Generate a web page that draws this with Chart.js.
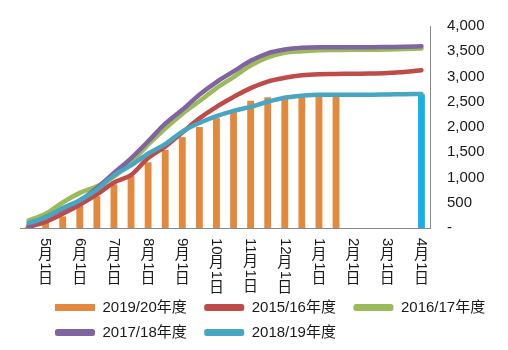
<!DOCTYPE html>
<html>
<head>
<meta charset="utf-8">
<script src="https://cdn.jsdelivr.net/npm/chart.js@4.4.0/dist/chart.umd.min.js"></script>
<style>
  body { margin: 0; background: #fff; }
  #wrap { width: 508px; height: 350px; }
</style>
</head>
<body>
<div id="wrap"><canvas id="chart" width="508" height="350"></canvas></div>
<script>
// half-month points, April to April
const categories = ['4月16日', '5月1日', '5月16日', '6月1日', '6月16日', '7月1日', '7月16日', '8月1日',
    '8月16日', '9月1日', '9月16日', '10月1日', '10月16日', '11月1日', '11月16日', '12月1日',
    '12月16日', '1月1日', '1月16日', '2月1日', '2月16日', '3月1日', '3月16日', '4月1日'];

const season1920 = [20, 120, 230, 440, 630, 865, 1030, 1300, 1545, 1800, 2000, 2175, 2295,
    2520, 2590, 2620, 2630, 2630, 2630, null, null, null, null, null];
const season1920End = [null, null, null, null, null, null, null, null, null, null, null, null,
    null, null, null, null, null, null, null, null, null, null, null, 2650];
const season1516 = [20, 120, 280, 460, 665, 900, 1050, 1385, 1610, 1890, 2170, 2400, 2595,
    2770, 2900, 2975, 3025, 3045, 3050, 3055, 3060, 3070, 3090, 3125];
const season1617 = [150, 280, 505, 695, 825, 1015, 1300, 1650, 1970, 2260, 2510, 2770, 2990,
    3215, 3380, 3470, 3500, 3520, 3525, 3530, 3530, 3535, 3545, 3555];
const season1718 = [50, 215, 375, 540, 790, 1090, 1380, 1715, 2065, 2340, 2640, 2890, 3100,
    3310, 3460, 3535, 3570, 3580, 3580, 3580, 3580, 3585, 3590, 3600];
const season1819 = [100, 210, 395, 550, 760, 1045, 1240, 1470, 1660, 1910, 2080, 2215, 2320,
    2400, 2500, 2580, 2620, 2640, 2640, 2640, 2640, 2645, 2650, 2655];

const textColor = '#1a1a1a';
const fontFamily = '"Liberation Sans", "Noto Sans CJK SC", sans-serif';

Chart.defaults.font.family = fontFamily;
Chart.defaults.font.size = 15;
Chart.defaults.color = textColor;

function lineSet(label, data, color, order) {
    return {
        type: 'line',
        label: label,
        data: data,
        borderColor: color,
        backgroundColor: color,
        borderWidth: 4.5,
        borderCapStyle: 'round',
        borderJoinStyle: 'round',
        pointRadius: 0,
        cubicInterpolationMode: 'monotone',
        order: order
    };
}

// x labels are written top to bottom, digits turned sideways
const verticalLabels = {
    id: 'verticalLabels',
    afterDraw(chart) {
        const ctx = chart.ctx;
        const xs = chart.scales.x;
        ctx.save();
        ctx.fillStyle = textColor;
        ctx.font = '15px ' + fontFamily;
        categories.forEach((lab, i) => {
            if (!/月1日$/.test(lab)) return;
            const x = xs.getPixelForValue(i);
            let y = xs.top + 10;
            lab.match(/\d+|\D/g).forEach(part => {
                if (/\d/.test(part)) {
                    const w = ctx.measureText(part).width;
                    ctx.save();
                    ctx.translate(x, y);
                    ctx.rotate(Math.PI / 2);
                    ctx.textAlign = 'left';
                    ctx.textBaseline = 'middle';
                    ctx.fillText(part, 0, 0);
                    ctx.restore();
                    y += w + 1;
                } else {
                    ctx.textAlign = 'center';
                    ctx.textBaseline = 'top';
                    ctx.fillText(part, x, y);
                    y += 15;
                }
            });
        });
        ctx.restore();
    }
};

// legend rows start under the plot, not at the page edge
const legendShift = {
    id: 'legendShift',
    afterLayout(chart) {
        chart.legend.left += 25;
    }
};

new Chart(document.getElementById('chart'), {
    type: 'bar',
    data: {
        labels: categories,
        datasets: [
            {
                label: '2019/20年度',
                data: season1920,
                backgroundColor: '#E3893D',
                barPercentage: 0.8,
                categoryPercentage: 0.5,
                grouped: false,
                order: 10
            },
            lineSet('2015/16年度', season1516, '#BE4B48', 4),
            lineSet('2016/17年度', season1617, '#9BBB59', 3),
            lineSet('2017/18年度', season1718, '#8064A2', 2),
            lineSet('2018/19年度', season1819, '#47A7C2', 1),
            {
                label: '',
                data: season1920End,
                backgroundColor: '#15B0EA',
                barPercentage: 0.8,
                categoryPercentage: 0.5,
                grouped: false,
                order: 9
            }
        ]
    },
    options: {
        responsive: false,
        animation: false,
        layout: { padding: { left: 20, top: 19, right: 0, bottom: 0 } },
        plugins: {
            tooltip: { enabled: false },
            legend: {
                position: 'bottom',
                align: 'start',
                labels: {
                    boxWidth: 40,
                    boxHeight: 7,
                    padding: 10,
                    useBorderRadius: true,
                    color: textColor,
                    font: { size: 15 },
                    filter: (item) => item.text !== '',
                    sort: (a, b) => a.datasetIndex - b.datasetIndex,
                    generateLabels(chart) {
                        const items = Chart.defaults.plugins.legend.labels.generateLabels(chart);
                        return items.map(it => {
                            const ds = chart.data.datasets[it.datasetIndex];
                            it.lineWidth = 0;
                            it.fillStyle = ds.type === 'line' ? ds.borderColor : ds.backgroundColor;
                            it.borderRadius = ds.type === 'line' ? 2.5 : 0;
                            // a bit of extra room after each entry
                            if (it.text) it.text = it.text + '\u2002';
                            return it;
                        });
                    }
                }
            }
        },
        scales: {
            x: {
                grid: { display: false },
                ticks: { display: false },
                border: { color: '#8a8a8a' },
                afterFit(scale) { scale.height = 62; }
            },
            y: {
                position: 'right',
                min: 0,
                max: 4000,
                grid: { display: false, drawTicks: false },
                border: { color: '#8a8a8a' },
                ticks: {
                    stepSize: 500,
                    padding: 17,
                    color: textColor,
                    callback: (v) => v === 0 ? '-' : v.toLocaleString('en-US')
                },
                afterFit(scale) { scale.width = 78; }
            }
        }
    },
    plugins: [verticalLabels, legendShift]
});
</script>
</body>
</html>
